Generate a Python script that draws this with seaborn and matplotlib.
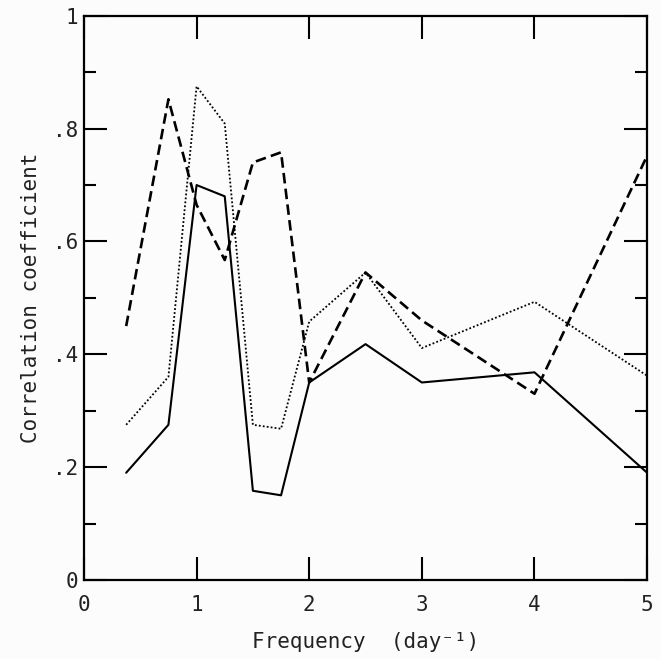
import matplotlib
matplotlib.use("Agg")
import seaborn as sns
import numpy as np
import pandas as pd
import matplotlib.pyplot as plt
from matplotlib.ticker import MultipleLocator

sns.set_theme(style="ticks")
plt.rcParams['font.family'] = ['DejaVu Sans Mono', 'DejaVu Sans']

# frequencies (day^-1) and correlation coefficients
freq = [0.375, 0.75, 1.0, 1.25, 1.5, 1.75, 2.0, 2.5, 3.0, 4.0, 5.0]
solid_vals = [0.19, 0.275, 0.70, 0.68, 0.158, 0.150, 0.35, 0.418, 0.35, 0.368, 0.19]
dashed_vals = [0.45, 0.852, 0.665, 0.567, 0.74, 0.758, 0.35, 0.545, 0.46, 0.33, 0.752]
dotted_vals = [0.275, 0.36, 0.875, 0.809, 0.275, 0.268, 0.458, 0.545, 0.411, 0.493, 0.362]

xticks = [0, 1, 2, 3, 4, 5]
yticks = [0, 0.2, 0.4, 0.6, 0.8, 1.0]
ytick_labels = ["0", ".2", ".4", ".6", ".8", "1"]

fig = plt.figure(figsize=(6.61, 6.59), dpi=100)
ax = fig.add_axes([0.127, 0.12, 0.852, 0.856])

sns.lineplot(x=freq, y=solid_vals, ax=ax, color="black", linewidth=1.5,
             linestyle="-", estimator=None, sort=False)
sns.lineplot(x=freq, y=dashed_vals, ax=ax, color="black", linewidth=1.9,
             estimator=None, sort=False).lines[-1].set_dashes([4, 2])
sns.lineplot(x=freq, y=dotted_vals, ax=ax, color="black", linewidth=1.3,
             estimator=None, sort=False).lines[-1].set_dashes([1, 1.2])

ax.set_xlim(0, 5)
ax.set_ylim(0, 1)
ax.set_xticks(xticks)
ax.set_xticklabels([str(t) for t in xticks])
ax.set_yticks(yticks)
ax.set_yticklabels(ytick_labels)
ax.yaxis.set_minor_locator(MultipleLocator(0.1))

ax.tick_params(axis="both", which="major", direction="in", length=16.5,
               width=1.5, color="black", top=True, right=True,
               labelsize=15, labelcolor="#222222")
ax.tick_params(axis="x", which="major", pad=11)
ax.tick_params(axis="y", which="major", pad=4)
ax.tick_params(axis="y", which="minor", direction="in", length=8.5,
               width=1.5, color="black", right=True, left=True)
for sp in ax.spines.values():
    sp.set_visible(True)
    sp.set_linewidth(1.6)
    sp.set_color("black")

ax.set_xlabel("Frequency  (day\u207b\u00b9)", fontsize=15, color="#222222", labelpad=12)
ax.set_ylabel("Correlation coefficient", fontsize=15, color="#222222", labelpad=9)
ax.set_facecolor("#fbfcfb")
fig.patch.set_facecolor("#fbfcfb")

fig.savefig("out.png", dpi=100)
